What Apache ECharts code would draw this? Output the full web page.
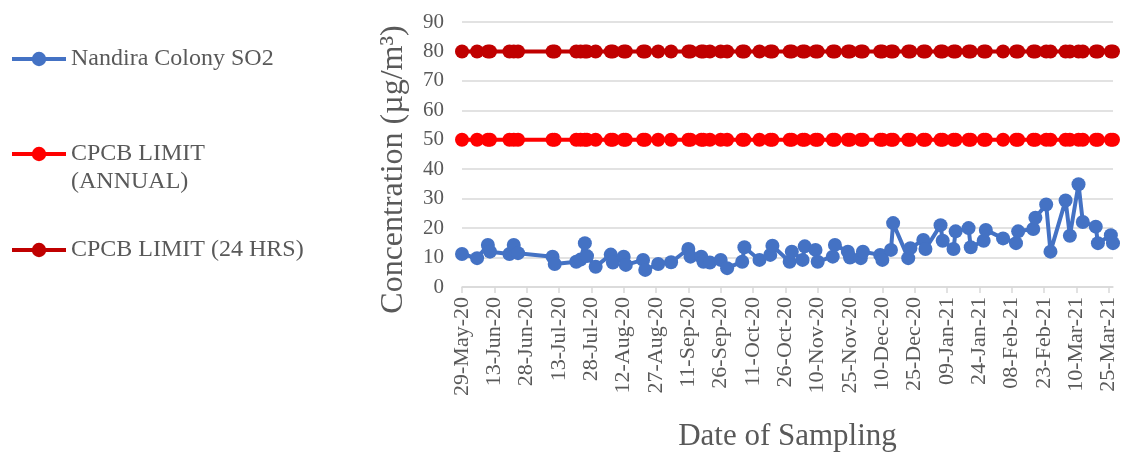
<!DOCTYPE html>
<html>
<head>
<meta charset="utf-8">
<script src="https://cdn.jsdelivr.net/npm/echarts@6/dist/echarts.min.js"></script>
<style>
html,body{margin:0;padding:0;background:#fff;}
#chart{width:1123px;height:454px;}
</style>
</head>
<body>
<div id="chart"></div>
<script>
// ---- Data ----
const sampleDates = [
  '2020-05-29','2020-06-05','2020-06-10','2020-06-11','2020-06-20','2020-06-22','2020-06-24',
  '2020-07-10','2020-07-11','2020-07-21','2020-07-23','2020-07-25','2020-07-26','2020-07-30',
  '2020-08-06','2020-08-07','2020-08-12','2020-08-13','2020-08-21','2020-08-22','2020-08-28',
  '2020-09-03','2020-09-11','2020-09-12','2020-09-17','2020-09-18','2020-09-21','2020-09-26','2020-09-29',
  '2020-10-06','2020-10-07','2020-10-14','2020-10-19','2020-10-20','2020-10-28','2020-10-29',
  '2020-11-03','2020-11-04','2020-11-09','2020-11-10','2020-11-17','2020-11-18','2020-11-24','2020-11-25','2020-11-30',
  '2020-12-01','2020-12-09','2020-12-10','2020-12-14','2020-12-15','2020-12-22','2020-12-23','2020-12-29','2020-12-30',
  '2021-01-06','2021-01-07','2021-01-12','2021-01-13','2021-01-19','2021-01-20','2021-01-26','2021-01-27',
  '2021-02-04','2021-02-10','2021-02-11','2021-02-18','2021-02-19','2021-02-24','2021-02-26',
  '2021-03-05','2021-03-07','2021-03-11','2021-03-13','2021-03-19','2021-03-20','2021-03-26','2021-03-27'
];
const so2Values = [
  11.2, 9.8, 14.3, 12.0, 11.2, 14.3, 11.5,
  10.3, 7.8, 8.6, 9.3, 14.9, 10.5, 6.9,
  11.0, 8.3, 10.3, 7.5, 9.2, 5.8, 7.8,
  8.4, 12.9, 10.3, 10.3, 8.6, 8.3, 9.2, 6.4,
  8.6, 13.5, 9.2, 10.9, 14.0, 8.6, 12.0,
  9.2, 13.8, 12.6, 8.6, 10.3, 14.3, 12.0, 10.0, 9.8,
  12.0, 10.9, 9.2, 12.6, 21.7, 9.8, 13.2, 16.0, 12.9,
  21.0, 15.7, 12.9, 18.9, 20.0, 13.5, 15.7, 19.4,
  16.5, 14.9, 18.9, 19.7, 23.5, 28.0, 12.0,
  29.4, 17.4, 34.9, 22.1, 20.5, 14.9, 17.6, 14.9
];
const annualLimit = 50;   // CPCB LIMIT (ANNUAL)
const dailyLimit = 80;    // CPCB LIMIT (24 HRS)
const tickLabels = [
  '29-May-20','13-Jun-20','28-Jun-20','13-Jul-20','28-Jul-20','12-Aug-20','27-Aug-20',
  '11-Sep-20','26-Sep-20','11-Oct-20','26-Oct-20','10-Nov-20','25-Nov-20','10-Dec-20',
  '25-Dec-20','09-Jan-21','24-Jan-21','08-Feb-21','23-Feb-21','10-Mar-21','25-Mar-21'
];
const yTicks = [0, 10, 20, 30, 40, 50, 60, 70, 80, 90];
const seriesNames = ['Nandira Colony SO2', 'CPCB LIMIT (ANNUAL)', 'CPCB LIMIT (24 HRS)'];

// ---- Helpers ----
const DAY = 86400000;
const MONTHS = {Jan:0,Feb:1,Mar:2,Apr:3,May:4,Jun:5,Jul:6,Aug:7,Sep:8,Oct:9,Nov:10,Dec:11};
const startMs = Date.parse(sampleDates[0] + 'T00:00:00Z');
function isoToDay(s) { return Math.round((Date.parse(s + 'T00:00:00Z') - startMs) / DAY); }
function labelToDay(l) {
  const p = l.split('-');
  return Math.round((Date.UTC(2000 + (+p[2]), MONTHS[p[1]], +p[0]) - startMs) / DAY);
}
const xDays = sampleDates.map(isoToDay);
const tickDays = tickLabels.map(labelToDay);
const labelByDay = {};
tickDays.forEach((d, i) => { labelByDay[d] = tickLabels[i]; });

const so2Data = xDays.map((d, i) => [d, so2Values[i]]);
const annualData = xDays.map(d => [d, annualLimit]);
const dailyData = xDays.map(d => [d, dailyLimit]);

const FONT = '"Liberation Serif", "Times New Roman", serif';
const TXT = '#595959';
const GRID = '#d9d9d9';
const colors = ['#4472C4', '#FF0000', '#C00000'];

const chart = echarts.init(document.getElementById('chart'), null, {renderer: 'canvas'});

function legendFor(name, top, fmt) {
  return {
    data: [name], left: 10, top: top, orient: 'vertical', padding: 0,
    itemWidth: 54, itemHeight: 18, itemGap: 0, selectedMode: false,
    lineStyle: {width: 4},
    formatter: fmt || '{name}',
    textStyle: {fontFamily: FONT, fontSize: 24, color: TXT, lineHeight: 26}
  };
}

const option = {
  animation: false,
  color: colors,
  grid: {left: 462, right: 10, top: 22, bottom: 167, containLabel: false, outerBoundsMode: 'none'},
  legend: [
    legendFor(seriesNames[0], 46),
    legendFor(seriesNames[1], 141, () => 'CPCB LIMIT'),
    legendFor(seriesNames[2], 237)
  ],
  graphic: [{
    type: 'text', left: 71, top: 170,
    style: {text: '(ANNUAL)', font: '24px ' + FONT, fill: TXT}
  }],
  xAxis: {
    type: 'value', min: 0, max: xDays[xDays.length - 1],
    name: 'Date of Sampling', nameLocation: 'middle', nameGap: 134,
    nameTextStyle: {fontFamily: FONT, fontSize: 31, color: TXT},
    axisLine: {show: true, lineStyle: {color: GRID, width: 1.5}},
    axisTick: {show: true, customValues: tickDays, length: 6, lineStyle: {color: GRID, width: 1.5}},
    axisLabel: {
      customValues: tickDays, rotate: 90, margin: 10,
      fontFamily: FONT, fontSize: 22, color: TXT,
      formatter: v => labelByDay[Math.round(v)] || ''
    },
    splitLine: {show: false}
  },
  yAxis: {
    type: 'value', min: yTicks[0], max: yTicks[yTicks.length - 1], interval: yTicks[1] - yTicks[0],
    name: 'Concentration (µg/m³)', nameLocation: 'middle', nameGap: 52,
    nameTextStyle: {fontFamily: FONT, fontSize: 32, color: TXT, padding: [0, 30, 0, 0]},
    axisLine: {show: false}, axisTick: {show: false},
    axisLabel: {fontFamily: FONT, fontSize: 21, color: TXT, margin: 18},
    splitLine: {lineStyle: {color: GRID, width: 1.5}}
  },
  series: [
    {name: seriesNames[0], type: 'line', data: so2Data, symbol: 'circle', symbolSize: 14,
     itemStyle: {color: colors[0]}, lineStyle: {color: colors[0], width: 4}, emphasis: {disabled: true}},
    {name: seriesNames[1], type: 'line', data: annualData, symbol: 'circle', symbolSize: 14,
     itemStyle: {color: colors[1]}, lineStyle: {color: colors[1], width: 4}, emphasis: {disabled: true}},
    {name: seriesNames[2], type: 'line', data: dailyData, symbol: 'circle', symbolSize: 14,
     itemStyle: {color: colors[2]}, lineStyle: {color: colors[2], width: 4}, emphasis: {disabled: true}}
  ]
};
chart.setOption(option);
</script>
</body>
</html>
